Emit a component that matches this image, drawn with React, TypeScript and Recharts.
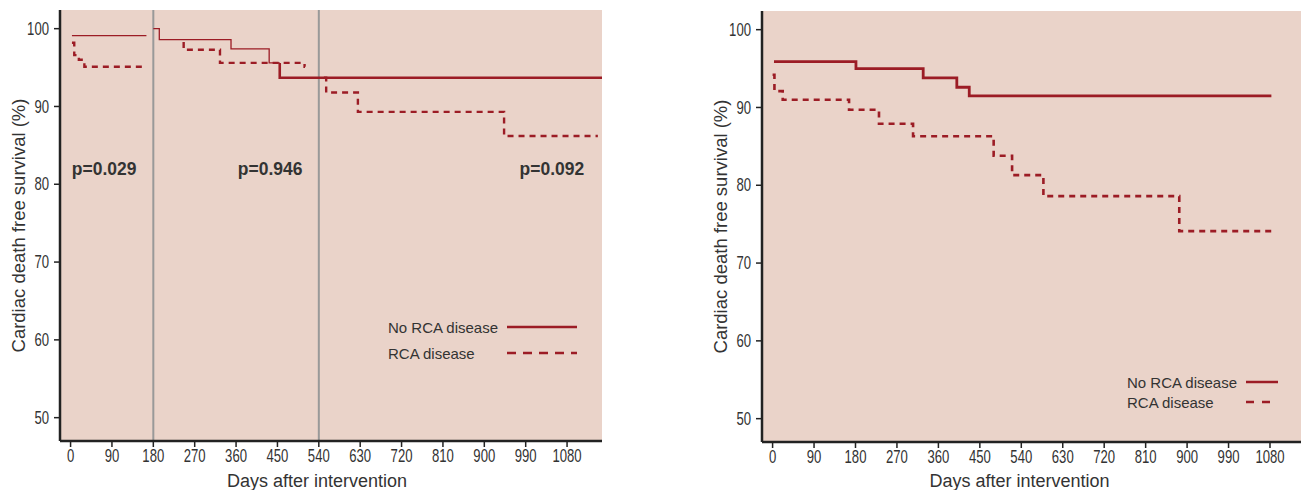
import { LineChart, Line, XAxis, YAxis, CartesianGrid, ReferenceLine, ReferenceDot, Legend } from 'recharts'

const RED = '#9c1c25'
const BG = '#ead3c9'
const INK = '#333'
const SANS = '"Liberation Sans", Arial, sans-serif'

const X_TICKS = [0, 90, 180, 270, 360, 450, 540, 630, 720, 810, 900, 990, 1080]
const Y_TICKS = [50, 60, 70, 80, 90, 100]
const X_DOMAIN: [number, number] = [-23, 1156]
const Y_DOMAIN: [number, number] = [47, 102.4]

// left panel: landmark analysis split at 180 and 540 days
const leftNoRca1 = [
  { day: 3, v: 99.1 },
  { day: 165, v: 99.1 },
]
const leftNoRca2 = [
  { day: 180, v: 100 },
  { day: 193, v: 98.6 },
  { day: 349, v: 97.4 },
  { day: 432, v: 95.6 },
  { day: 455, v: 95.6 },
]
const leftNoRca3 = [
  { day: 455, v: 95.6 },
  { day: 455, v: 93.7 },
  { day: 1156, v: 93.7 },
]
const leftRca1 = [
  { day: 3, v: 98.2 },
  { day: 8, v: 96.6 },
  { day: 18, v: 96.0 },
  { day: 30, v: 95.1 },
  { day: 157, v: 95.1 },
]
const leftRca2 = [
  { day: 246, v: 98.3 },
  { day: 246, v: 97.3 },
  { day: 325, v: 95.6 },
  { day: 509, v: 95.1 },
  { day: 510, v: 95.1 },
]
const leftRca3 = [
  { day: 551, v: 93.7 },
  { day: 556, v: 91.8 },
  { day: 625, v: 89.3 },
  { day: 943, v: 86.2 },
  { day: 1147, v: 86.2 },
]
const SPLITS = [180, 540]
const P_VALUES = [
  { day: 73, v: 82.1, text: 'p=0.029' },
  { day: 434, v: 82.1, text: 'p=0.946' },
  { day: 1047, v: 82.1, text: 'p=0.092' },
]

// right panel: full follow-up
const rightNoRca = [
  { day: 3, v: 95.9 },
  { day: 181, v: 95.0 },
  { day: 327, v: 93.8 },
  { day: 400, v: 92.6 },
  { day: 427, v: 91.5 },
  { day: 1083, v: 91.5 },
]
const rightRca = [
  { day: 0, v: 94.2 },
  { day: 4, v: 92.1 },
  { day: 22, v: 91.0 },
  { day: 166, v: 89.7 },
  { day: 231, v: 87.9 },
  { day: 305, v: 86.3 },
  { day: 480, v: 83.8 },
  { day: 520, v: 81.3 },
  { day: 588, v: 78.6 },
  { day: 883, v: 74.1 },
  { day: 1085, v: 74.1 },
]

const LEGEND = ['No RCA disease', 'RCA disease']

// condensed look: squeeze regular glyphs horizontally around their anchor
function NarrowTick(props: any) {
  const { x, y, payload, textAnchor, shift } = props
  return (
    <text
      x={x}
      y={y}
      dy={shift}
      textAnchor={textAnchor}
      fill={INK}
      fontSize={17.5}
      fontFamily={SANS}
      transform={`translate(${x} 0) scale(0.75 1) translate(${-x} 0)`}
    >
      {payload.value}
    </text>
  )
}

function PLabel(props: any) {
  const { viewBox, text } = props
  const cx = viewBox.x + (viewBox.width || 0) / 2
  const cy = viewBox.y + (viewBox.height || 0) / 2
  return (
    <text
      x={cx}
      y={cy}
      dy="0.36em"
      textAnchor="middle"
      fill={INK}
      fontSize={19}
      fontWeight={700}
      fontFamily={SANS}
      transform={`translate(${cx} 0) scale(0.92 1) translate(${-cx} 0)`}
    >
      {text}
    </text>
  )
}

function LegendBox({ rowH, lineLen, dash }: { rowH: number; lineLen: number; dash: string }) {
  return (
    <div style={{ fontFamily: SANS, fontSize: 15, color: INK }}>
      {LEGEND.map((name, i) => (
        <div key={name} style={{ display: 'flex', alignItems: 'center', height: rowH }}>
          <span style={{ width: 119, whiteSpace: 'nowrap' }}>{name}</span>
          <svg width={lineLen} height={4}>
            <line x1={0} y1={2} x2={lineLen} y2={2} stroke={RED} strokeWidth={2.5} strokeDasharray={i ? dash : undefined} />
          </svg>
        </div>
      ))}
    </div>
  )
}

function Panel({ top, xAxisH, right, legend, children }: any) {
  return (
    <LineChart width={610} height={490} margin={{ top, right, bottom: 0, left: 0 }}>
      <CartesianGrid fill={BG} horizontal={false} vertical={false} strokeOpacity={0} />
      <XAxis
        type="number"
        dataKey="day"
        domain={X_DOMAIN}
        ticks={X_TICKS}
        allowDataOverflow
        height={xAxisH}
        tick={(p: any) => <NarrowTick {...p} shift="0.71em" />}
        tickSize={6}
        tickMargin={3}
        tickLine={{ stroke: '#222', strokeWidth: 1.5 }}
        axisLine={{ stroke: '#222', strokeWidth: 2.5 }}
        label={{ value: 'Days after intervention', position: 'insideBottom', offset: 3, dx: -14, style: { fill: INK, fontSize: 18, fontFamily: SANS } }}
      />
      <YAxis
        type="number"
        domain={Y_DOMAIN}
        ticks={Y_TICKS}
        allowDataOverflow
        width={60}
        tick={(p: any) => <NarrowTick {...p} shift="0.355em" />}
        tickSize={6}
        tickMargin={5}
        tickLine={{ stroke: '#222', strokeWidth: 1.5 }}
        axisLine={{ stroke: '#222', strokeWidth: 2.5 }}
        label={{ value: 'Cardiac death free survival (%)', angle: -90, position: 'insideLeft', offset: 18, style: { textAnchor: 'middle', fill: INK, fontSize: 18.5, fontFamily: SANS } }}
      />
      {children}
      <Legend layout="vertical" align="center" verticalAlign="middle" content={() => legend.box} wrapperStyle={{ left: legend.left, top: legend.top, width: 220 }} />
    </LineChart>
  )
}

export default function App() {
  const step = { type: 'stepAfter' as const, dataKey: 'v', stroke: RED, dot: false, activeDot: false, isAnimationActive: false }
  return (
    <div style={{ position: 'absolute', left: 0, top: 0, width: 1301, height: 490, overflow: 'hidden', background: '#fff' }}>
      <div style={{ position: 'absolute', left: 0, top: 0 }}>
        <Panel top={10} xAxisH={49} right={8} legend={{ left: 388, top: 314, box: <LegendBox rowH={26} lineLen={70} dash="9 7" /> }}>
          {SPLITS.map((d) => (
            <ReferenceLine key={d} x={d} stroke="#999" strokeWidth={2} />
          ))}
          <Line {...step} data={leftNoRca1} strokeWidth={1.3} />
          <Line {...step} data={leftNoRca2} strokeWidth={1.3} />
          <Line {...step} data={leftNoRca3} strokeWidth={2.6} />
          <Line {...step} data={leftRca1} strokeWidth={2.4} strokeDasharray="6 5" />
          <Line {...step} data={leftRca2} strokeWidth={2.4} strokeDasharray="6 5" />
          <Line {...step} data={leftRca3} strokeWidth={2.4} strokeDasharray="6 5" />
          {P_VALUES.map((p) => (
            <ReferenceDot
              key={p.text}
              x={p.day}
              y={p.v}
              r={0}
              fill="none"
              stroke="none"
              label={{ content: (lp: any) => <PLabel {...lp} text={p.text} /> }}
            />
          ))}
        </Panel>
      </div>
      <div style={{ position: 'absolute', left: 702, top: 0 }}>
        <Panel top={11} xAxisH={48} right={7} legend={{ left: 425, top: 372, box: <LegendBox rowH={20} lineLen={32} dash="8 8" /> }}>
          <Line {...step} data={rightNoRca} strokeWidth={2.8} />
          <Line {...step} data={rightRca} strokeWidth={2.6} strokeDasharray="6 5" />
        </Panel>
      </div>
    </div>
  )
}
